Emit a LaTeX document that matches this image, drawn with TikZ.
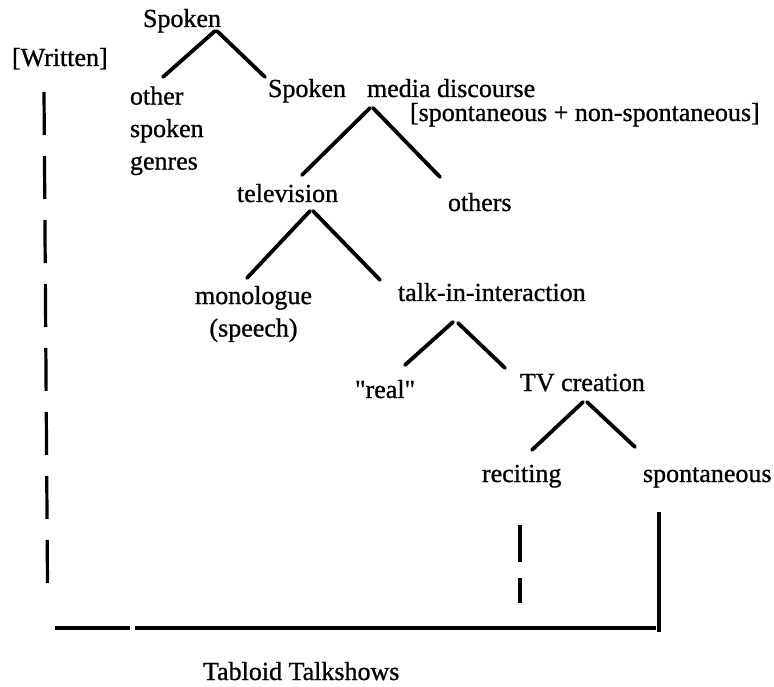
\documentclass[tikz,border=0pt]{standalone}
\usepackage{fontspec}
\setmainfont[FakeBold=0.9]{Liberation Serif}
\newfontfamily\plainquotes[FakeBold=0.9,Ligatures=TeXOff]{Liberation Serif}
\begin{document}
\begin{tikzpicture}[x=1pt,y=-1pt,
  lbl/.style={inner sep=0pt, outer sep=0pt, font=\fontsize{26}{32.5}\selectfont},
  branch/.style={line width=3.8pt, line cap=round},
  guide/.style={line width=3.2pt},
]
\useasboundingbox (0,0) rectangle (774,687);

% labels of the classification tree
\node[lbl,anchor=base west] (root) at (143,27) {Spoken};
\node[lbl,anchor=base west] (written) at (12,66) {[Written]};
\node[lbl,anchor=north west,align=left] (other) at (130,86.5) {other\\spoken\\genres};
\node[lbl,anchor=base west] (media) at (268,97) {Spoken\hspace{21pt}media discourse};
\node[lbl,anchor=base west] (mediasub) at (410,121) {[spontaneous + non-spontaneous]};
\node[lbl,anchor=base west] (tv) at (237,202) {television};
\node[lbl,anchor=base west] (others) at (448,211) {others};
\node[lbl,anchor=north,align=center] (mono) at (253.5,286) {monologue\\(speech)};
\node[lbl,anchor=base west] (talk) at (398,301) {talk-in-interaction};
\node[lbl,anchor=base west] (real) at (355,398) {{\plainquotes "real"}};
\node[lbl,anchor=base west] (tvc) at (520,391) {TV creation};
\node[lbl,anchor=base west] (reciting) at (482,482) {reciting};
\node[lbl,anchor=base west] (spont) at (643,482) {spontaneous};
\node[lbl,anchor=base west] (tabloid) at (203,680) {Tabloid Talkshows};

% branch end points
\coordinate (root-l) at (215,31);   \coordinate (other-t) at (163,77);
\coordinate (root-r) at (217,31);   \coordinate (media-t) at (265,77);
\coordinate (media-l) at (370,108); \coordinate (tv-t) at (302,175);
\coordinate (media-r) at (373,108); \coordinate (others-t) at (440,177);
\coordinate (tv-l) at (310,211);    \coordinate (mono-t) at (247,278);
\coordinate (tv-r) at (313,211);    \coordinate (talk-t) at (380,280);
\coordinate (talk-l) at (453,322);  \coordinate (real-t) at (405,365);
\coordinate (talk-r) at (458,323);  \coordinate (tvc-t) at (505,368);
\coordinate (tvc-l) at (583,402);   \coordinate (rec-t) at (532,450);
\coordinate (tvc-r) at (587,402);   \coordinate (spont-t) at (635,447);

\draw[branch] (root-l) -- (other-t);
\draw[branch] (root-r) -- (media-t);
\draw[branch] (media-l) -- (tv-t);
\draw[branch] (media-r) -- (others-t);
\draw[branch] (tv-l) -- (mono-t);
\draw[branch] (tv-r) -- (talk-t);
\draw[branch] (talk-l) -- (real-t);
\draw[branch] (talk-r) -- (tvc-t);
\draw[branch] (tvc-l) -- (rec-t);
\draw[branch] (tvc-r) -- (spont-t);

% links down to the talkshow baseline
\coordinate (w-top) at (44,92);    \coordinate (w-bot) at (47.5,584);
\coordinate (r-top) at (520,525);  \coordinate (r-bot) at (520,603);
\coordinate (s-top) at (659,512);  \coordinate (s-bot) at (659,632);
\coordinate (h-a) at (55,628);     \coordinate (h-b) at (130,628);
\coordinate (h-c) at (135,628);    \coordinate (h-d) at (656,628);

\draw[guide, dash pattern=on 43pt off 21pt] (w-top) -- (w-bot);
\draw[guide, dash pattern=on 37pt off 16pt] (r-top) -- (r-bot);
\draw[guide] (s-top) -- (s-bot);
\draw[guide] (h-a) -- (h-b);
\draw[guide] (h-c) -- (h-d);
\end{tikzpicture}
\end{document}
